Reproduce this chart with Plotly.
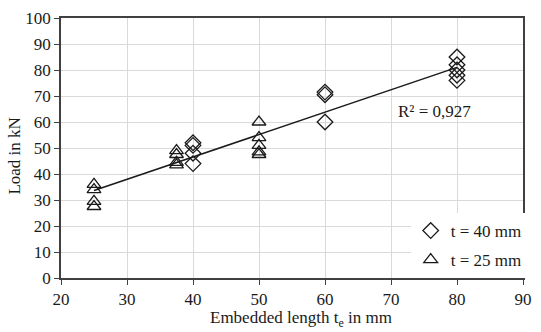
import numpy as np
import plotly.graph_objects as go

# t = 40 mm (diamonds)
x40 = [40, 40, 40, 40, 60, 60, 60, 80, 80, 80, 80, 80]
y40 = [52, 51, 48, 44, 71.5, 70.5, 60, 85, 82, 80, 78, 76]
# t = 25 mm (triangles)
x25 = [25, 25, 25, 25, 37.5, 37.5, 37.5, 37.5, 50, 50, 50, 50, 50]
y25 = [36, 34, 29.5, 27.5, 49, 47.5, 44.5, 43.5, 60, 54, 51, 48.5, 47.5]

r2_text = "R² = 0,927"
x_ticks = [20, 30, 40, 50, 60, 70, 80, 90]
y_ticks = [0, 10, 20, 30, 40, 50, 60, 70, 80, 90, 100]

xa = np.array(x40 + x25, dtype=float)
ya = np.array(y40 + y25, dtype=float)
k, d = np.polyfit(xa, ya, 1)
xt = np.array([xa.min(), xa.max()])
yt = k * xt + d

FONT = "Times New Roman, Liberation Serif, serif"
TXT = "#1a1a1a"
fig = go.Figure()
fig.add_trace(go.Scatter(x=xt, y=yt, mode="lines", line=dict(color=TXT, width=1.5),
                         showlegend=False, hoverinfo="skip"))
fig.add_trace(go.Scatter(x=x40, y=y40, mode="markers", name="t = 40 mm", legendgroup="a",
                         marker=dict(symbol="diamond-open", size=12, color=TXT,
                                     line=dict(width=1.3, color=TXT))))
fig.add_trace(go.Scatter(x=x25, y=y25, mode="markers", name="t = 25 mm", legendgroup="b",
                         marker=dict(symbol="triangle-up-open", size=12, color=TXT,
                                     line=dict(width=1.3, color=TXT))))

axis_common = dict(showline=True, linecolor="#404040", linewidth=1.5, mirror=True,
                   showgrid=True, gridcolor="#d9d9d9", gridwidth=1,
                   ticks="outside", ticklen=5, tickcolor="#404040", tickwidth=1.2,
                   zeroline=False, tickfont=dict(family=FONT, size=17, color=TXT))

fig.update_xaxes(range=[20, 90], tickvals=x_ticks, **axis_common)
fig.update_yaxes(range=[0, 100], tickvals=y_ticks, **axis_common)

fig.add_annotation(x=76.6, y=64.2, xref="x", yref="y", text=r2_text, showarrow=False,
                   font=dict(family=FONT, size=17, color=TXT))
fig.add_annotation(x=0.52, y=-0.159, xref="paper", yref="paper", yanchor="middle",
                   text="Embedded length t<sub>e</sub> in mm", showarrow=False,
                   font=dict(family=FONT, size=17, color=TXT))
fig.add_annotation(x=-0.1, y=0.47, xref="paper", yref="paper", xanchor="center",
                   text="Load in kN", textangle=-90, showarrow=False,
                   font=dict(family=FONT, size=17, color=TXT))

fig.update_layout(
    width=541, height=332,
    margin=dict(l=61, r=9, t=14, b=54),
    paper_bgcolor="white", plot_bgcolor="white",
    font=dict(family=FONT, size=17, color=TXT),
    showlegend=True,
    hovermode=False,
    legend=dict(x=1.008, xanchor="right", y=0.0, yanchor="bottom",
                bgcolor="white", borderwidth=0, tracegroupgap=4,
                font=dict(family=FONT, size=17, color=TXT)),
)
fig.write_html("out.html", config={"displayModeBar": False},
               post_script="document.body.style.margin='0';")
